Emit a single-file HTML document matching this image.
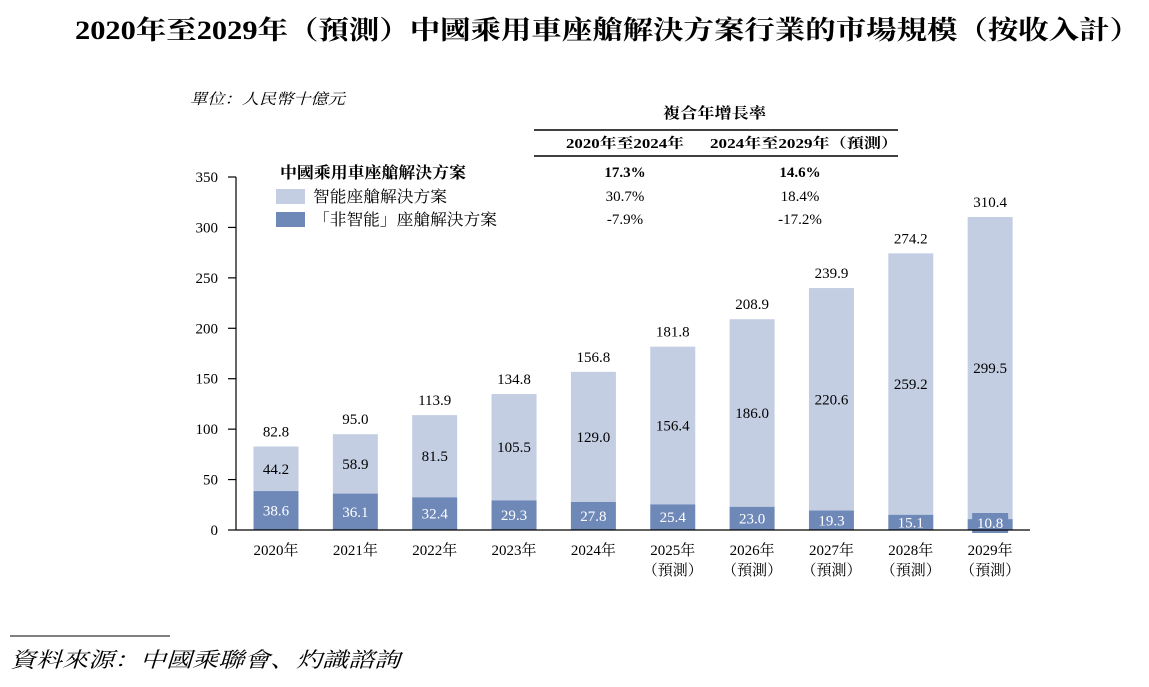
<!DOCTYPE html>
<html><head><meta charset="utf-8"><style>
body{margin:0;background:#fff;width:1149px;height:687px;overflow:hidden;font-family:"Liberation Serif","Noto Serif CJK SC","Noto Sans CJK TC",serif;}
svg{position:absolute;left:0;top:0}
</style></head><body>
<svg id="c" width="1149" height="687" font-family="Liberation Serif, Noto Serif CJK SC, Noto Sans CJK TC, serif">
<text x="75" y="39" font-size="26" font-weight="bold" textLength="1065" lengthAdjust="spacingAndGlyphs">2020年至2029年（預測）中國乘用車座艙解決方案行業的市場規模（按收入計）</text>
<text x="190" y="104" font-size="15" font-style="italic" textLength="155" lengthAdjust="spacingAndGlyphs">單位：人民幣十億元</text>
<text x="663" y="118" font-size="15" font-weight="bold" textLength="103" lengthAdjust="spacingAndGlyphs">複合年增長率</text>
<line x1="534" y1="130" x2="898" y2="130" stroke="#000" stroke-width="1.5"/>
<text x="566" y="148" font-size="14" font-weight="bold" textLength="118" lengthAdjust="spacingAndGlyphs">2020年至2024年</text>
<text x="710" y="148" font-size="14" font-weight="bold" textLength="188" lengthAdjust="spacingAndGlyphs">2024年至2029年（預測）</text>
<line x1="534" y1="156" x2="898" y2="156" stroke="#000" stroke-width="1.5"/>
<text x="280" y="178" font-size="16" font-weight="bold" textLength="186" lengthAdjust="spacingAndGlyphs">中國乘用車座艙解決方案</text>
<rect x="276" y="189" width="29" height="15" fill="#c3cee3"/>
<text x="313" y="202" font-size="16" textLength="134" lengthAdjust="spacingAndGlyphs">智能座艙解決方案</text>
<rect x="276" y="212" width="29" height="15" fill="#6e88b8"/>
<text x="313" y="225" font-size="16" textLength="184" lengthAdjust="spacingAndGlyphs">「非智能」座艙解決方案</text>
<text x="625" y="177" text-anchor="middle" font-size="15" font-weight="bold">17.3%</text>
<text x="800" y="177" text-anchor="middle" font-size="15" font-weight="bold">14.6%</text>
<text x="625" y="201" text-anchor="middle" font-size="15">30.7%</text>
<text x="800" y="201" text-anchor="middle" font-size="15">18.4%</text>
<text x="625" y="224" text-anchor="middle" font-size="15">-7.9%</text>
<text x="800" y="224" text-anchor="middle" font-size="15">-17.2%</text>
<g id="plot"></g>
<line x1="10" y1="636" x2="170" y2="636" stroke="#000" stroke-width="1"/>
<text x="10" y="667" font-size="21" font-style="italic" textLength="390" lengthAdjust="spacingAndGlyphs">資料來源：中國乘聯會、灼識諮詢</text>
</svg>
<script>
const years=["2020年","2021年","2022年","2023年","2024年","2025年","2026年","2027年","2028年","2029年"];
const forecast=[false,false,false,false,false,true,true,true,true,true];
const smart=[44.2,58.9,81.5,105.5,129.0,156.4,186.0,220.6,259.2,299.5];
const nonSmart=[38.6,36.1,32.4,29.3,27.8,25.4,23.0,19.3,15.1,10.8];
const totals=[82.8,95.0,113.9,134.8,156.8,181.8,208.9,239.9,274.2,310.4];
const yTicks=[0,50,100,150,200,250,300,350];
const NS="http://www.w3.org/2000/svg";
const g=document.getElementById('plot');
const y0=530,yScale=(530-177)/350;
const y=v=>y0-v*yScale;
const x=i=>276+i*79.35;
const bw=45;
function mk(t,a,txt){const e=document.createElementNS(NS,t);for(const k in a)e.setAttribute(k,a[k]);if(txt!==undefined)e.textContent=txt;g.appendChild(e);return e;}
let ax=mk('line',{x1:236,y1:177,x2:236,y2:530,stroke:'#000','stroke-width':1.2});


yTicks.forEach(t=>{
 const l=mk('line',{x1:228,y1:y(t),x2:236,y2:y(t),stroke:'#000','stroke-width':1.2});
 
 
 const tx=mk('text',{x:218,y:y(t)+5,'text-anchor':'end','font-size':15},String(t));
 
 
});
years.forEach((yr,i)=>{
 const cx=x(i);
 const yn=y(nonSmart[i]), ys=y(nonSmart[i]+smart[i]);
 const rs=mk('rect',{x:cx-bw/2,y:ys,width:bw,height:yn-ys,fill:'#c3cee3'});
 
 
 const rn=mk('rect',{x:cx-bw/2,y:yn,width:bw,height:y0-yn,fill:'#6e88b8'});
 
 
 let ty=(yn+y0)/2+5;
 if(y0-yn<13){
  ty=y0-2;
  const bg=mk('rect',{x:cx-18,y:ty-15,width:36,height:20,fill:'#6e88b8'});
  
  
 }
 const t1=mk('text',{x:cx,y:ty,'text-anchor':'middle','font-size':15,fill:'#fff'},nonSmart[i].toFixed(1));
 
 
 const t2=mk('text',{x:cx,y:(ys+yn)/2+5,'text-anchor':'middle','font-size':15},smart[i].toFixed(1));
 
 
 const t3=mk('text',{x:cx,y:ys-10,'text-anchor':'middle','font-size':15},totals[i].toFixed(1));
 
 
 const xl=mk('text',{x:cx,y:555,'text-anchor':'middle','font-size':15},yr);
 
 
 if(forecast[i]){
  const fl=mk('text',{x:cx,y:575,'text-anchor':'middle','font-size':15},'（預測）');
  
  
 }
});
const xa=mk('line',{x1:236,y1:530,x2:1030,y2:530,stroke:'#000','stroke-width':1.2});


</script>
</body></html>
